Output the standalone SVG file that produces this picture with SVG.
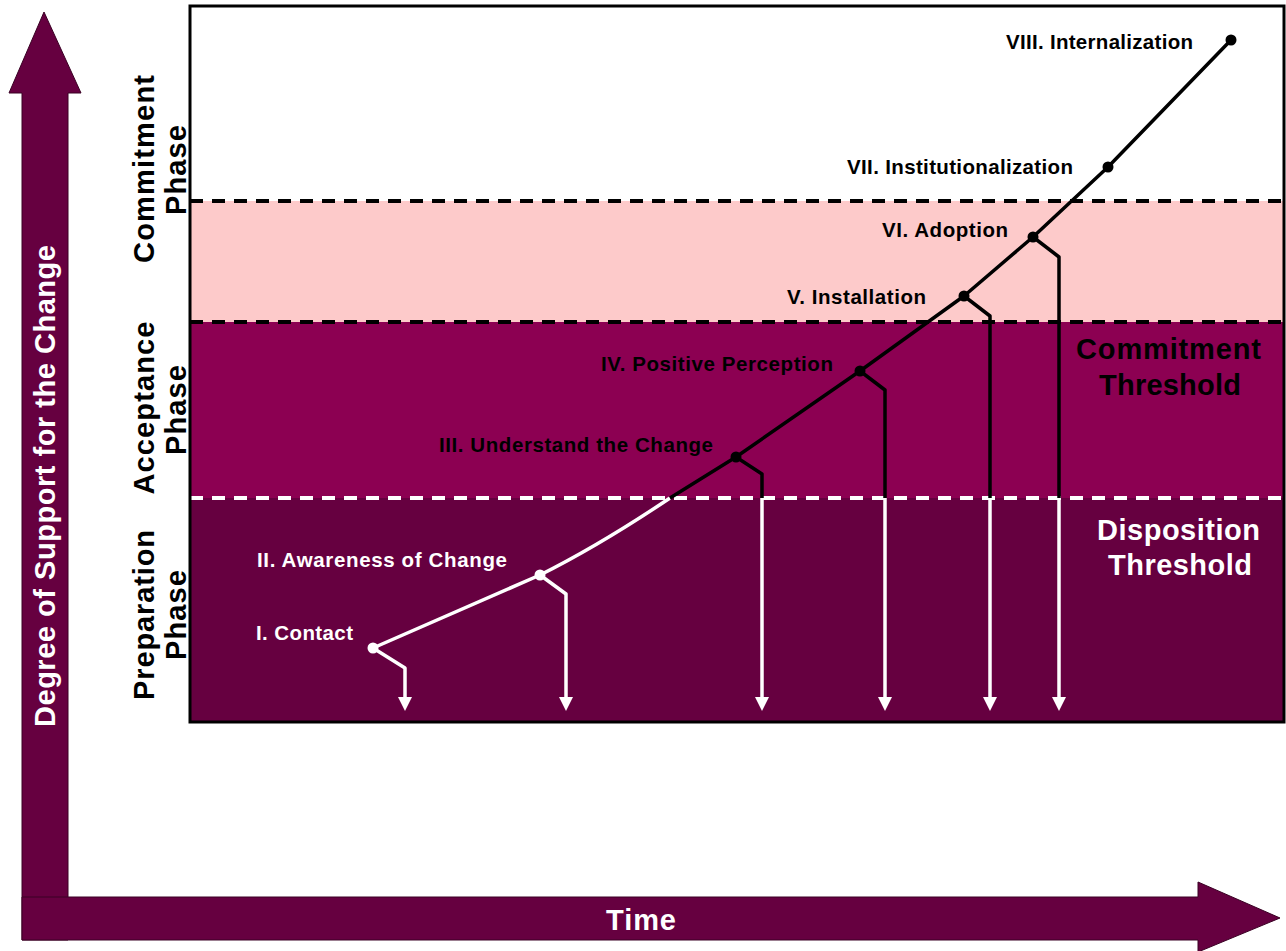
<svg xmlns="http://www.w3.org/2000/svg" width="1286" height="951" viewBox="0 0 1286 951">
<defs>
<style>
.lbl{font-family:"Liberation Sans",Arial,sans-serif;font-weight:bold;font-size:20.5px;}
.ph{font-family:"Liberation Sans",Arial,sans-serif;font-weight:bold;font-size:29px;fill:#000;}
.th{font-family:"Liberation Sans",Arial,sans-serif;font-weight:bold;font-size:29px;}
.ln{fill:none;stroke-width:3.5;stroke-linejoin:round;}
.dk{stroke:#000;}
.wt{stroke:#fff;}
</style>
<marker id="ah" viewBox="0 0 10 10" refX="0" refY="5" markerWidth="14" markerHeight="14" markerUnits="userSpaceOnUse" orient="auto">
<path d="M0,0 L10,5 L0,10 Z" fill="#fff"/>
</marker>
</defs>
<rect width="1286" height="951" fill="#fff"/>
<!-- axes -->
<g id="y-axis">
<path d="M22,940 L22,93 L9,93 L44,12 L81,93 L68,93 L68,940 Z" fill="#660040" stroke="#3a0024" stroke-width="1"/>
<text transform="translate(45,486) rotate(-90)" text-anchor="middle" dominant-baseline="central" textLength="482" style="font-family:'Liberation Sans',Arial,sans-serif;font-weight:bold;font-size:29px;fill:#fff">Degree of Support for the Change</text>
</g>
<g id="x-axis">
<path d="M22,897 L1198,897 L1198,882 L1280,918 L1198,952 L1198,940 L22,940 Z" fill="#660040" stroke="#3a0024" stroke-width="1"/>
<text x="641" y="930" text-anchor="middle" textLength="70" style="font-family:'Liberation Sans',Arial,sans-serif;font-weight:bold;font-size:29px;fill:#fff">Time</text>
</g>
<!-- bands -->
<g id="bands">
<rect x="190" y="201" width="1094" height="121" fill="#fdcaca"/>
<rect x="190" y="322" width="1094" height="176" fill="#8c0052"/>
<rect x="190" y="498" width="1094" height="224" fill="#660040"/>
<line x1="190" y1="201" x2="1284" y2="201" stroke="#000" stroke-width="4" stroke-dasharray="13 9"/>
<line x1="190" y1="322" x2="1284" y2="322" stroke="#000" stroke-width="4" stroke-dasharray="13 9"/>
<line x1="190" y1="498" x2="1284" y2="498" stroke="#fff" stroke-width="4" stroke-dasharray="13 9"/>
<rect x="190" y="6" width="1094" height="716" fill="none" stroke="#000" stroke-width="3"/>
</g>
<!-- phase labels -->
<g id="phase-commitment">
<text class="ph" transform="translate(144,169) rotate(-90)" text-anchor="middle" dominant-baseline="central" textLength="188">Commitment</text>
<text class="ph" transform="translate(176,170) rotate(-90)" text-anchor="middle" dominant-baseline="central" textLength="90">Phase</text>
</g>
<g id="phase-acceptance">
<text class="ph" transform="translate(144,408) rotate(-90)" text-anchor="middle" dominant-baseline="central" textLength="173">Acceptance</text>
<text class="ph" transform="translate(176,410) rotate(-90)" text-anchor="middle" dominant-baseline="central" textLength="90">Phase</text>
</g>
<g id="phase-preparation">
<text class="ph" transform="translate(144,615) rotate(-90)" text-anchor="middle" dominant-baseline="central" textLength="170">Preparation</text>
<text class="ph" transform="translate(176,615) rotate(-90)" text-anchor="middle" dominant-baseline="central" textLength="90">Phase</text>
</g>
<g id="thresholds">
<text class="th" x="1076" y="359" textLength="185" fill="#000">Commitment</text>
<text class="th" x="1099" y="395" textLength="142" fill="#000">Threshold</text>
<text class="th" x="1097" y="540" textLength="163" fill="#fff">Disposition</text>
<text class="th" x="1108" y="575" textLength="144" fill="#fff">Threshold</text>
</g>
<!-- connectors -->
<g id="connectors">
<path class="ln wt" d="M373,648 L540,575 Q600,545 670,498"/>
<path class="ln dk" d="M670,498 L736,457 L860,371 L964,296 L1033,237 L1108,167 L1231,40"/>
<path class="ln wt" d="M373,648 L405,668 L405,697" marker-end="url(#ah)"/>
<path class="ln wt" d="M540,575 L566,594 L566,697" marker-end="url(#ah)"/>
<path class="ln dk" d="M736,457 L762,474 L762,498"/>
<path class="ln wt" d="M762,498 L762,697" marker-end="url(#ah)"/>
<path class="ln dk" d="M860,371 L885,390 L885,498"/>
<path class="ln wt" d="M885,498 L885,697" marker-end="url(#ah)"/>
<path class="ln dk" d="M964,296 L990,316 L990,498"/>
<path class="ln wt" d="M990,498 L990,697" marker-end="url(#ah)"/>
<path class="ln dk" d="M1033,237 L1059,257 L1059,498"/>
<path class="ln wt" d="M1059,498 L1059,697" marker-end="url(#ah)"/>
</g>
<!-- stages -->
<g id="stage-1"><circle cx="373" cy="648" r="5.5" fill="#fff"/><text class="lbl" x="256" y="640" textLength="97" fill="#fff">I. Contact</text></g>
<g id="stage-2"><circle cx="540" cy="575" r="5.5" fill="#fff"/><text class="lbl" x="257" y="567" textLength="250" fill="#fff">II. Awareness of Change</text></g>
<g id="stage-3"><circle cx="736" cy="457" r="5.5" fill="#000"/><text class="lbl" x="439" y="452" textLength="274" fill="#000">III. Understand the Change</text></g>
<g id="stage-4"><circle cx="860" cy="371" r="5.5" fill="#000"/><text class="lbl" x="601" y="371" textLength="232" fill="#000">IV. Positive Perception</text></g>
<g id="stage-5"><circle cx="964" cy="296" r="5.5" fill="#000"/><text class="lbl" x="787" y="304" textLength="139" fill="#000">V. Installation</text></g>
<g id="stage-6"><circle cx="1033" cy="237" r="5.5" fill="#000"/><text class="lbl" x="882" y="237" textLength="126" fill="#000">VI. Adoption</text></g>
<g id="stage-7"><circle cx="1108" cy="167" r="5.5" fill="#000"/><text class="lbl" x="847" y="174" textLength="226" fill="#000">VII. Institutionalization</text></g>
<g id="stage-8"><circle cx="1231" cy="40" r="5.5" fill="#000"/><text class="lbl" x="1006" y="49" textLength="187" fill="#000">VIII. Internalization</text></g>
</svg>
